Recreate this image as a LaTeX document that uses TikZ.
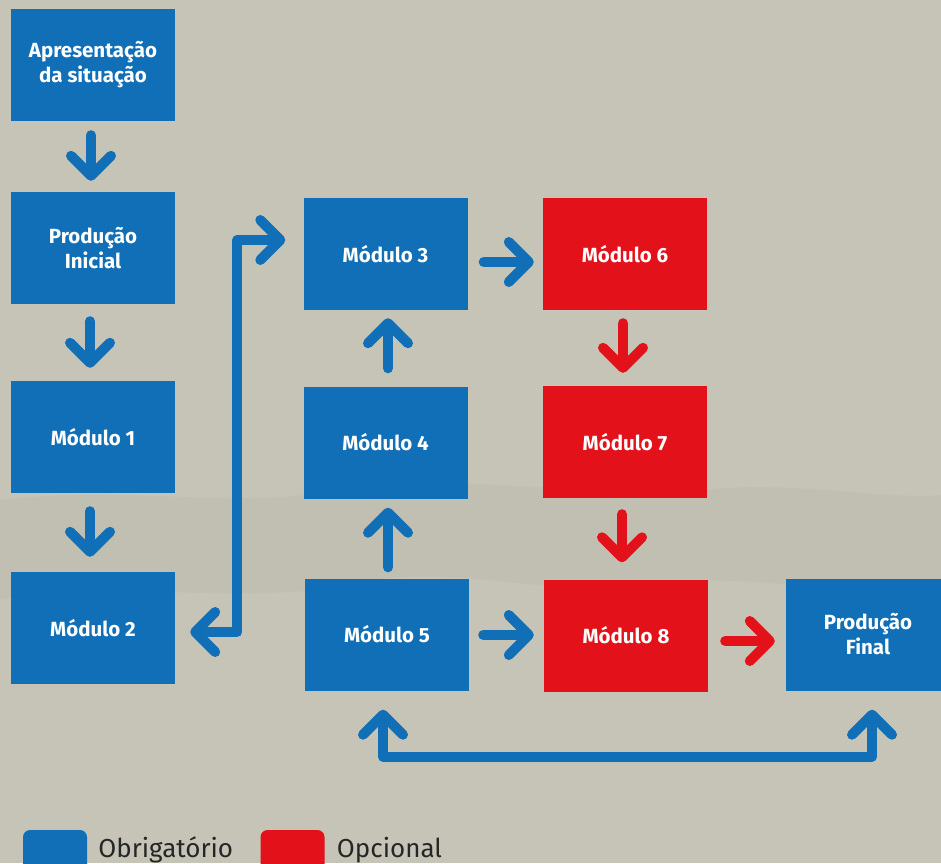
\documentclass[tikz,border=0pt]{standalone}
\usepackage{fontspec}
\setmainfont{Fira Sans}
\usetikzlibrary{arrows.meta,calc}
\definecolor{bg}{HTML}{C5C4B7}
\definecolor{band}{HTML}{BCBCAE}
\definecolor{bl}{HTML}{106FB7}
\definecolor{rd}{HTML}{E3111A}
\begin{document}
\begin{tikzpicture}[x=1pt,y=-1pt,
  box/.style={fill=#1, minimum width=164pt, minimum height=112pt, inner sep=0pt,
    text=white, font=\bfseries\fontsize{20.5}{25}\selectfont, align=center},
  arr/.style={draw=#1, line width=10pt, line cap=round, line join=round, -{Straight Barb[length=20pt,width=40pt,round]}},
  arrboth/.style={draw=#1, line width=10pt, line cap=round, line join=round, {Straight Barb[length=20pt,width=40pt,round]}-{Straight Barb[length=20pt,width=40pt,round]}},
  legbox/.style={fill=#1, rounded corners=7pt, minimum width=64pt, minimum height=44pt, inner sep=0pt},
  legtext/.style={anchor=base west, inner sep=0pt, font=\fontsize{26}{30}\selectfont, text=black!85},
]
\clip (0,0) rectangle (941,863);
\fill[bg] (0,0) rectangle (941,863);
% subtle darker band of the background
\fill[band, opacity=0.5] (0,500) .. controls (120,485) and (250,510) .. (330,490)
  .. controls (450,470) and (600,500) .. (700,490) .. controls (800,480) and (880,500) .. (941,495)
  -- (941,590) .. controls (850,600) and (750,570) .. (650,585)
  .. controls (550,600) and (450,560) .. (350,585) .. controls (250,605) and (120,580) .. (0,600) -- cycle;

% boxes
\node[box=bl] (A)  at (93,65)    {Apresentação\\da situação};
\node[box=bl] (P)  at (93,248)   {Produção\\Inicial};
\node[box=bl] (M1) at (93,437)   {Módulo 1};
\node[box=bl] (M2) at (93,628)   {Módulo 2};
\node[box=bl] (M3) at (385.5,254) {Módulo 3};
\node[box=bl] (M4) at (385.5,442.5) {Módulo 4};
\node[box=bl] (M5) at (387,634.5) {Módulo 5};
\node[box=rd] (M6) at (625,254)  {Módulo 6};
\node[box=rd] (M7) at (625,442)  {Módulo 7};
\node[box=rd] (M8) at (626,635.5) {Módulo 8};
\node[box=bl] (F)  at (868,634.5) {Produção\\Final};

% arrows
\draw[arr=bl] ($(A.south)+(-2,14)$) -- ($(P.north)+(-2,-11)$);
\draw[arr=bl] ($(P.south)+(-3,17)$) -- ($(M1.north)+(-3,-13)$);
\draw[arr=bl] ($(M1.south)+(-3,18)$) -- ($(M2.north)+(-3,-15)$);
\draw[arrboth=bl] ($(M2.east)+(15,4)$) -| ($(M3.west)+(-66,-14)$) -- ($(M3.west)+(-18,-14)$);
\draw[arr=bl] ($(M3.east)+(16,8)$) -- ($(M6.west)+(-9,8)$);
\draw[arr=rd] ($(M6.south)+(-2,13)$) -- ($(M7.north)+(-2,-13)$);
\draw[arr=rd] ($(M7.south)+(-3,16)$) -- ($(M8.north)+(-4,-17)$);
\draw[arr=bl] ($(M4.north)+(2.5,-18)$) -- ($(M3.south)+(2.5,8)$);
\draw[arr=bl] ($(M5.north)+(1,-11)$) -- ($(M4.south)+(2.5,9)$);
\draw[arr=bl] ($(M5.east)+(14,0.5)$) -- ($(M8.west)+(-10,-0.5)$);
\draw[arr=rd] ($(M8.east)+(17,5.5)$) -- ($(F.west)+(-11,6.5)$);
\draw[arrboth=bl] ($(M5.south)+(-4,19)$) -- ($(M5.south)+(-4,66)$) -| ($(F.south)+(4,19)$);

% legend
\node[legbox=bl] (LB) at (55,852) {};
\node[legtext] (LBt) at ($(LB.east)+(11,5)$) {Obrigatório};
\node[legbox=rd] (LR) at (292.5,852) {};
\node[legtext] (LRt) at ($(LR.east)+(12,5)$) {Opcional};
\end{tikzpicture}
\end{document}
